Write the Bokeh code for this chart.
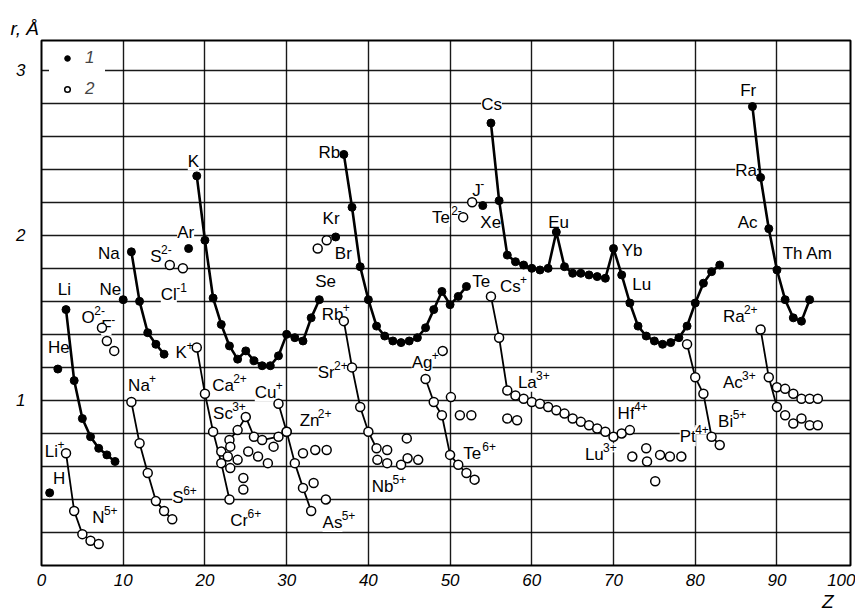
from bokeh.plotting import figure
from bokeh.models import Range1d, FixedTicker, Label, Legend, LegendItem, Title
from bokeh.embed import file_html
from bokeh.resources import INLINE

# ---------------- data: series 1 (atomic radii, filled) ----------------
z_li = [3, 4, 5, 6, 7, 8, 9]
r_li = [1.55, 1.12, 0.89, 0.78, 0.71, 0.67, 0.63]
z_na = [11, 12, 13, 14, 15]
r_na = [1.90, 1.60, 1.41, 1.34, 1.28]
z_k = [19, 20, 21, 22, 23, 24, 25, 26, 27, 28, 29, 30, 31, 32, 33, 34]
r_k = [2.36, 1.97, 1.62, 1.46, 1.33, 1.25, 1.30, 1.24, 1.21, 1.21, 1.27, 1.40, 1.38, 1.36, 1.50, 1.61]
z_rb = [37, 38, 39, 40, 41, 42, 43, 44, 45, 46, 47, 48, 49, 50, 51, 52]
r_rb = [2.49, 2.17, 1.81, 1.61, 1.45, 1.39, 1.36, 1.35, 1.36, 1.38, 1.44, 1.55, 1.66, 1.58, 1.63, 1.69]
z_cs = [55, 56, 57, 58, 59, 60, 61, 62, 63, 64, 65, 66, 67, 68, 69, 70, 71, 72, 73, 74, 75, 76, 77, 78, 79, 80, 81, 82, 83]
r_cs = [2.68, 2.21, 1.88, 1.84, 1.82, 1.80, 1.79, 1.80, 2.02, 1.81, 1.77, 1.77, 1.76, 1.75, 1.74, 1.92,
        1.76, 1.59, 1.45, 1.39, 1.36, 1.34, 1.35, 1.38, 1.45, 1.59, 1.71, 1.78, 1.82]
z_fr = [87, 88, 89, 90, 91, 92, 93, 94]
r_fr = [2.78, 2.35, 2.04, 1.79, 1.61, 1.50, 1.48, 1.61]
z_single = [1, 2, 10, 18, 36, 54]
r_single = [0.44, 1.19, 1.61, 1.92, 1.99, 2.18]

# ---------------- data: series 2 (ionic radii, open) ----------------
z_lip = [3, 4, 5, 6, 7]
r_lip = [0.68, 0.33, 0.19, 0.15, 0.13]
z_nap = [11, 12, 13, 14, 15, 16]
r_nap = [0.99, 0.74, 0.56, 0.39, 0.33, 0.28]
z_kp = [19, 20, 21, 22, 23]
r_kp = [1.32, 1.04, 0.81, 0.62, 0.40]
z_m2 = [23, 24, 25, 26, 27, 29, 30]
r_m2 = [0.76, 0.82, 0.90, 0.78, 0.76, 0.78, 0.81]
z_cup = [29, 30, 31, 32, 33]
r_cup = [0.98, 0.81, 0.62, 0.47, 0.33]
z_rbp = [37, 38, 39, 40, 41]
r_rbp = [1.48, 1.20, 0.96, 0.81, 0.71]
z_agp = [47, 48, 49, 50, 51, 52, 53]
r_agp = [1.13, 0.99, 0.91, 0.67, 0.61, 0.56, 0.52]
z_csp = [55, 56, 57, 58, 59, 60, 61, 62, 63, 64, 65, 66, 67, 68, 69, 70, 71, 72]
r_csp = [1.63, 1.38, 1.06, 1.03, 1.01, 0.99, 0.98, 0.96, 0.94, 0.92, 0.89, 0.87, 0.85, 0.83, 0.81, 0.78, 0.80, 0.82]
z_aup = [79, 80, 81, 82, 83]
r_aup = [1.34, 1.14, 1.04, 0.78, 0.73]
z_rap = [88, 89, 90]
r_rap = [1.43, 1.14, 0.96]
z_an4 = [91, 92, 93, 94, 95]
r_an4 = [0.91, 0.86, 0.89, 0.85, 0.85]
z_an3 = [90, 91, 92, 93, 94, 95]
r_an3 = [1.08, 1.07, 1.04, 1.01, 1.01, 1.01]
z_misc = [7.4, 8.0, 8.9, 15.7, 17.3,
          22.0, 22.8, 23.1, 23.1, 24.0, 25.3, 26.5, 27.7, 28.4, 24.7, 24.7,
          32.0, 33.5, 34.9, 33.3, 34.8, 33.8, 34.9,
          42.3, 41.1, 42.3, 44.0, 44.8, 46.1, 44.7,
          49.1, 50.1, 51.2, 52.6, 51.6, 52.7, 57.0, 58.2,
          72.3, 74.0, 74.1, 75.7, 76.9, 78.3, 75.1]
r_misc = [1.44, 1.36, 1.30, 1.82, 1.80,
          0.69, 0.66, 0.59, 0.72, 0.64, 0.69, 0.66, 0.62, 0.72, 0.53, 0.46,
          0.68, 0.70, 0.70, 0.50, 0.40, 1.92, 1.97,
          0.70, 0.64, 0.62, 0.61, 0.65, 0.64, 0.77,
          1.30, 1.02, 0.91, 0.91, 2.11, 2.20, 0.89, 0.88,
          0.66, 0.71, 0.63, 0.67, 0.66, 0.66, 0.51]

# tick / grid values
x_ticks = [0, 10, 20, 30, 40, 50, 60, 70, 80, 90, 98]
x_tick_text = {98: "100"}
y_ticks = [1, 2, 3]
x_grid = [10, 20, 30, 40, 50, 60, 70, 80, 90]
y_grid = [0.2, 0.4, 0.6, 0.8, 1.0, 1.2, 1.4, 1.6, 1.8, 2.0, 2.2, 2.4, 2.6, 2.8, 3.0]

# element / ion labels: (symbol, charge superscript, Z, r) of the label's left-middle point
labels = [
    ("H", "", 1.4, 0.53), ("He", "", 0.8, 1.32), ("Li", "", 2.0, 1.67), ("Ne", "", 7.1, 1.67),
    ("Na", "", 6.9, 1.89), ("O", "2-", 4.9, 1.50), ("F", "-", 7.3, 1.45), ("S", "2-", 13.3, 1.87),
    ("Cl", "-1", 14.6, 1.64), ("Ar", "", 16.6, 2.02), ("K", "", 17.9, 2.45), ("K", "+", 16.4, 1.29),
    ("Ca", "2+", 20.9, 1.09), ("Cu", "+", 26.1, 1.05), ("Sc", "3+", 21.0, 0.92), ("Cr", "6+", 23.1, 0.27),
    ("Li", "+", 0.4, 0.69), ("N", "5+", 6.2, 0.29), ("Na", "+", 10.6, 1.09), ("S", "6+", 16.0, 0.41),
    ("Zn", "2+", 31.6, 0.88), ("As", "5+", 34.4, 0.26), ("Se", "", 33.5, 1.72), ("Kr", "", 34.4, 2.10),
    ("Br", "", 35.9, 1.89), ("Rb", "", 33.9, 2.50), ("Rb", "+", 34.3, 1.52), ("Sr", "2+", 33.8, 1.17),
    ("Nb", "5+", 40.4, 0.48), ("Ag", "+", 45.3, 1.23), ("Te", "6+", 51.6, 0.68), ("Te", "", 52.7, 1.72),
    ("Cs", "+", 56.1, 1.69), ("Te", "2-", 47.8, 2.11), ("J", "-", 52.7, 2.27), ("Xe", "", 53.7, 2.08),
    ("Cs", "", 53.8, 2.79), ("Eu", "", 62.0, 2.08), ("La", "3+", 58.3, 1.11), ("Yb", "", 71.0, 1.91),
    ("Lu", "", 72.3, 1.70), ("Hf", "4+", 70.5, 0.92), ("Lu", "3+", 66.5, 0.67), ("Pt", "4+", 78.1, 0.78),
    ("Bi", "5+", 82.8, 0.87), ("Fr", "", 85.5, 2.88), ("Ra", "", 84.9, 2.39), ("Ac", "", 85.2, 2.08),
    ("Th Am", "", 90.7, 1.89), ("Ra", "2+", 83.4, 1.51), ("Ac", "3+", 83.4, 1.11),
]

FONT = "Liberation Sans"
LABEL_PX = 17
SUP_PX = 12
# approximate advance widths (em/1000) of Liberation Sans, for placing superscripts
ADV = {"A": 667, "B": 667, "C": 722, "E": 667, "F": 611, "H": 722, "J": 500, "K": 667, "L": 556,
       "N": 722, "O": 778, "P": 667, "R": 722, "S": 667, "T": 611, "X": 667, "Y": 667,
       "a": 556, "b": 556, "c": 500, "e": 556, "f": 278, "g": 556, "i": 222, "l": 222, "m": 833,
       "n": 556, "o": 556, "r": 333, "s": 500, "t": 278, "u": 556, " ": 278}

p = figure(width=855, height=616, x_range=Range1d(0, 99), y_range=Range1d(0, 3.18),
           output_backend="svg", toolbar_location=None,
           min_border_left=41, min_border_right=5, min_border_top=40, min_border_bottom=51)
p.background_fill_color = "white"
p.border_fill_color = "white"
p.outline_line_color = "black"
p.outline_line_width = 2

for ax in (p.xaxis[0], p.yaxis[0]):
    ax.axis_line_color = None
    ax.major_tick_line_color = None
    ax.minor_tick_line_color = None
    ax.major_label_text_font = FONT
    ax.major_label_text_font_style = "italic"
    ax.major_label_text_font_size = "17px"
    ax.major_label_text_color = "black"
p.xaxis[0].ticker = FixedTicker(ticks=x_ticks)
p.xaxis[0].major_label_overrides = x_tick_text
p.yaxis[0].ticker = FixedTicker(ticks=y_ticks)
p.xaxis[0].major_label_standoff = 2
p.yaxis[0].major_label_standoff = 10

p.xgrid[0].ticker = FixedTicker(ticks=x_grid)
p.ygrid[0].ticker = FixedTicker(ticks=y_grid)
for g in (p.xgrid[0], p.ygrid[0]):
    g.grid_line_color = "black"
    g.grid_line_width = 1.4
    g.grid_line_alpha = 0.9

# axis titles
p.title.text = "r, Å"
p.title.align = "left"
p.title.offset = -31
p.title.standoff = 3
p.title.text_font = FONT
p.title.text_font_style = "italic"
p.title.text_font_size = "19px"
p.title.text_color = "black"
p.add_layout(Title(text="Z", align="right", offset=17, standoff=0, text_font=FONT,
                   text_font_style="italic", text_font_size="19px", text_color="black"), "below")

# labels (white background, under glyphs)
for base, sup, x, y in labels:
    p.add_layout(Label(x=x, y=y, text=base, text_font=FONT, text_font_size=f"{LABEL_PX}px",
                       text_align="left", text_baseline="middle", text_color="black",
                       background_fill_color="white", level="underlay"))
    if sup:
        w = sum(ADV.get(ch, 556) for ch in base) * LABEL_PX / 1000.0 * 0.96
        p.add_layout(Label(x=x, y=y, x_offset=w, y_offset=7, text=sup, text_font=FONT,
                           text_font_size=f"{SUP_PX}px", text_align="left", text_baseline="middle",
                           text_color="black", background_fill_color="white", level="underlay"))

# series 2 lines
for zs, rs in [(z_lip, r_lip), (z_nap, r_nap), (z_kp, r_kp), (z_m2, r_m2), (z_cup, r_cup),
               (z_rbp, r_rbp), (z_agp, r_agp), (z_csp, r_csp), (z_aup, r_aup), (z_rap, r_rap)]:
    p.line(zs, rs, line_color="black", line_width=1.8)

# series 1 lines
for zs, rs in [(z_li, r_li), (z_na, r_na), (z_k, r_k), (z_rb, r_rb), (z_cs, r_cs), (z_fr, r_fr)]:
    p.line(zs, rs, line_color="black", line_width=2.6)

open_renderers = []
for zs, rs in [(z_lip, r_lip), (z_nap, r_nap), (z_kp, r_kp), (z_m2, r_m2), (z_cup, r_cup),
               (z_rbp, r_rbp), (z_agp, r_agp), (z_csp, r_csp), (z_aup, r_aup), (z_rap, r_rap),
               (z_an4, r_an4), (z_an3, r_an3), (z_misc, r_misc)]:
    open_renderers.append(p.scatter(zs, rs, marker="circle", size=9, fill_color="white",
                                    line_color="black", line_width=1.5))

filled_renderers = []
for zs, rs in [(z_li, r_li), (z_na, r_na), (z_k, r_k), (z_rb, r_rb), (z_cs, r_cs), (z_fr, r_fr),
               (z_single, r_single)]:
    filled_renderers.append(p.scatter(zs, rs, marker="circle", size=8, fill_color="black",
                                      line_color="black"))

legend = Legend(items=[LegendItem(label="1", renderers=[filled_renderers[0]]),
                       LegendItem(label="2", renderers=[open_renderers[0]])],
                location="top_left", margin=8, padding=5, spacing=11,
                glyph_width=36, glyph_height=14, label_height=14, label_standoff=0,
                label_text_font=FONT, label_text_font_style="italic", label_text_font_size="17px",
                background_fill_color="white", background_fill_alpha=1.0,
                border_line_color=None)
p.add_layout(legend)

open("out.html", "w").write(file_html(p, INLINE))
